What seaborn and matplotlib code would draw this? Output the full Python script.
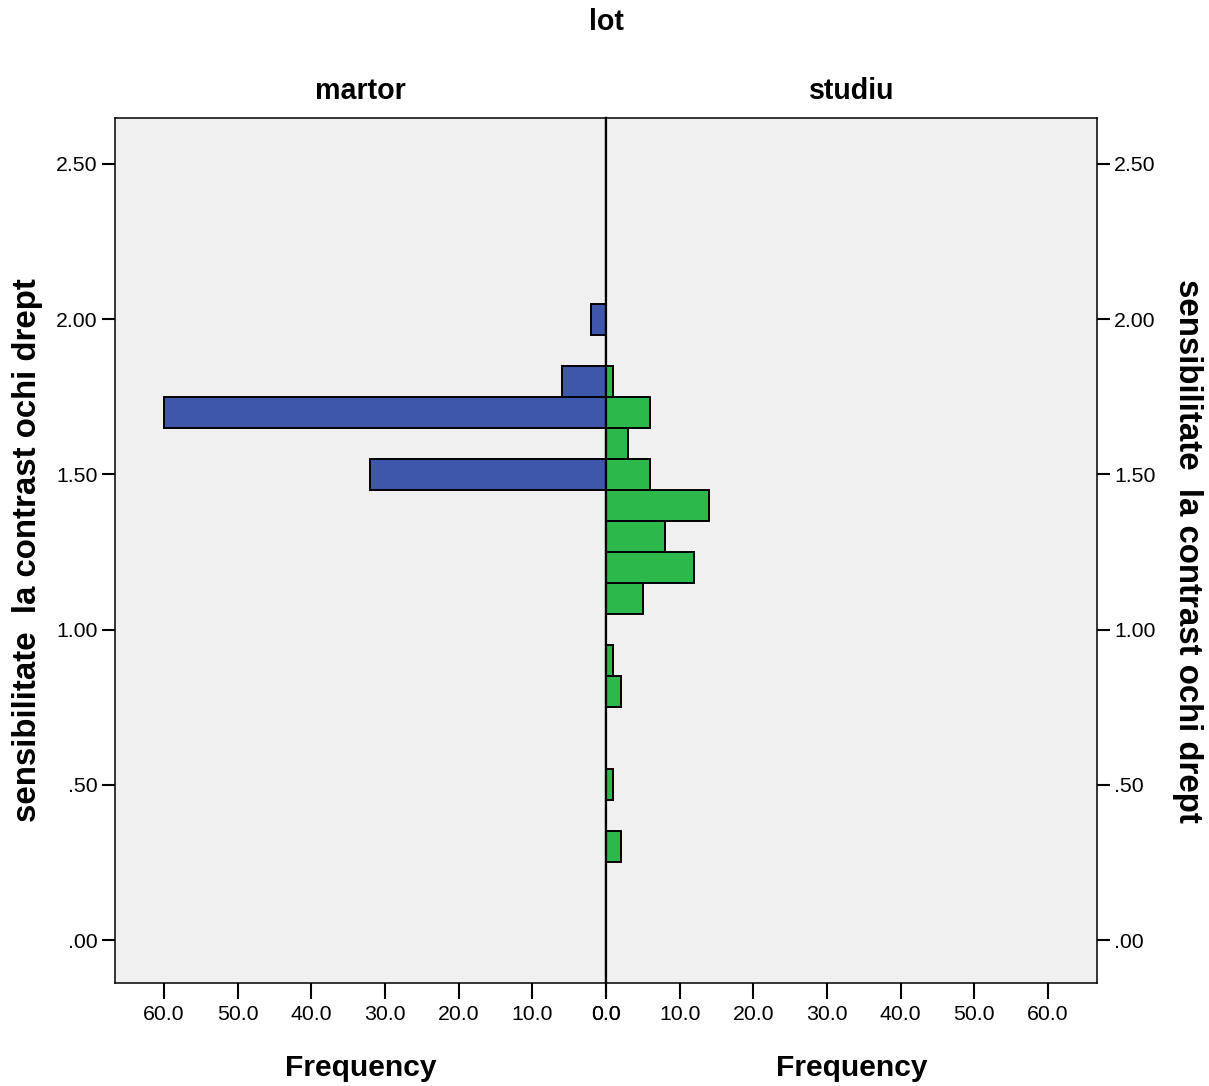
import numpy as np
import pandas as pd
import matplotlib
matplotlib.use('Agg')
import matplotlib.pyplot as plt
import seaborn as sns
from matplotlib.ticker import FuncFormatter, FixedLocator

# Data: bin centres (width 0.1) and their frequencies
groups = ['martor', 'studiu']
martor_values = [1.5, 1.7, 1.8, 2.0]
martor_counts = [32, 60, 6, 2]
studiu_values = [0.3, 0.5, 0.8, 0.9, 1.1, 1.2, 1.3, 1.4, 1.5, 1.6, 1.7, 1.8]
studiu_counts = [2, 1, 2, 1, 5, 12, 8, 14, 6, 3, 6, 1]

y_ticks = [0.0, 0.5, 1.0, 1.5, 2.0, 2.5]
x_ticks = [0, 10, 20, 30, 40, 50, 60]
bar_colors = ['#3E57AB', '#2DB84B']

y_label = 'sensibilitate  la contrast ochi drept'

df = pd.DataFrame({
    'lot': ['martor'] * len(martor_values) + ['studiu'] * len(studiu_values),
    'value': martor_values + studiu_values,
    'n': martor_counts + studiu_counts,
})

sns.set_style('white')
plt.rcParams['font.family'] = ['Liberation Sans', 'DejaVu Sans']
plt.rcParams.update({'text.color': 'black', 'axes.labelcolor': 'black',
                     'xtick.color': 'black', 'ytick.color': 'black'})

W, H = 1209, 1086
fig = plt.figure(figsize=(W / 100, H / 100), dpi=100)

# Panel geometry in pixels of the reference
left, mid, right = 115, 606, 1097
top, bottom = 118, 983
ax_l = fig.add_axes([left / W, 1 - bottom / H, (mid - left) / W, (bottom - top) / H])
ax_r = fig.add_axes([mid / W, 1 - bottom / H, (right - mid) / W, (bottom - top) / H])

xmax = 66.65
ylim = (-0.1385, 2.648)


def y_fmt(v, _):
    s = f'{v:.2f}'
    return s[1:] if s.startswith('0') else s


for ax, grp, color in zip([ax_l, ax_r], groups, bar_colors):
    sub = df[df['lot'] == grp]
    sns.histplot(data=sub, y='value', weights='n', binwidth=0.1,
                 binrange=(0.25, 2.05), color=color, edgecolor='black',
                 linewidth=1.4, alpha=1, ax=ax)
    ax.set_facecolor('#F0F0F0')
    ax.set_ylim(*ylim)
    ax.set_xlabel('')
    ax.set_ylabel('')
    ax.xaxis.set_major_locator(FixedLocator(x_ticks))
    ax.xaxis.set_major_formatter(FuncFormatter(lambda v, _: f'{v:.1f}'))
    ax.yaxis.set_major_locator(FixedLocator(y_ticks))
    ax.yaxis.set_major_formatter(FuncFormatter(y_fmt))
    ax.tick_params(axis='x', length=11.5, width=1.5, labelsize=15.3, pad=4,
                   direction='out', bottom=True, colors='black')
    ax.tick_params(axis='y', length=9.4, width=1.5, labelsize=15.3, pad=3,
                   direction='out', colors='black')
    for sp in ax.spines.values():
        sp.set_color('black')
        sp.set_linewidth(1.1)
    ax.set_title(grp, fontsize=20.6, fontweight='bold', pad=14, color='black')

ax_l.set_xlim(xmax, 0)
ax_l.tick_params(axis='y', left=True, right=False, labelleft=True, labelright=False)
ax_l.spines['right'].set_linewidth(1.6)

ax_r.set_xlim(0, xmax)
ax_r.yaxis.tick_right()
ax_r.tick_params(axis='y', left=False, right=True, labelleft=False, labelright=True)
ax_r.spines['left'].set_linewidth(1.6)

fig.text(606 / W, 1 - 22 / H, 'lot', ha='center', va='center', fontsize=20.6, fontweight='bold')
fig.text(361 / W, 1 - 1068 / H, 'Frequency', ha='center', va='center', fontsize=21.6, fontweight='bold')
fig.text(852 / W, 1 - 1068 / H, 'Frequency', ha='center', va='center', fontsize=21.6, fontweight='bold')
fig.text(28 / W, 1 - 550 / H, y_label, ha='center', va='center', rotation=90, fontsize=23.8, fontweight='bold')
fig.text(1187 / W, 1 - 551 / H, y_label, ha='center', va='center', rotation=270, fontsize=23.8, fontweight='bold')

fig.savefig('out.png', dpi=100, facecolor='white')
